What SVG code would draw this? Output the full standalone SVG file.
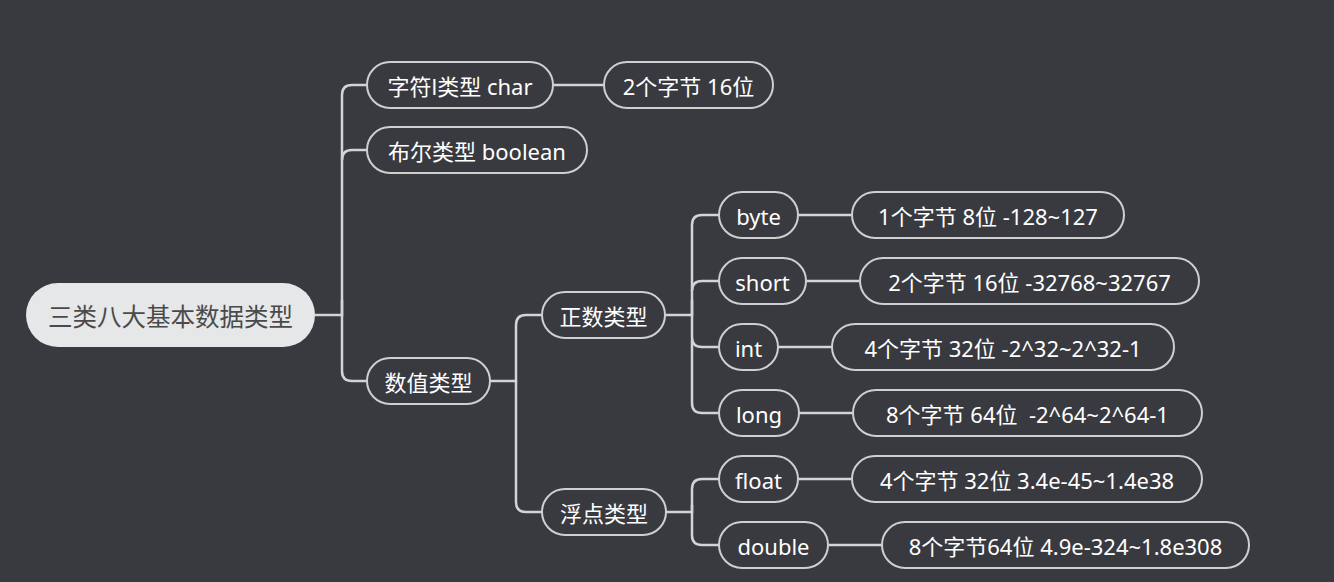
<svg xmlns="http://www.w3.org/2000/svg" width="1334" height="582" viewBox="0 0 1334 582">
<style>
.bg{fill:#393a3f}
.n rect{fill:#393a3f;stroke:#cfcfd0;stroke-width:2}
.n text{fill:#ffffff;font-family:"Noto Sans","Noto Sans CJK SC",sans-serif;font-size:22px;text-anchor:middle;dominant-baseline:central}
#root rect{fill:#e6e7e8;stroke:none}
#root text{fill:#4a4a4a;font-size:24.5px}
.c path{fill:none;stroke:#d4d4d5;stroke-width:2.5}
</style>
<rect class="bg" x="0" y="0" width="1334" height="582"/>
<g class="c" id="connectors">
<path d="M315,315 H342 V95 Q342,85 352,85 H367"/>
<path d="M342,160 Q342,150 352,150 H367"/>
<path d="M342,300 V371 Q342,381 352,381 H367"/>
<path d="M490,381 H516 V325 Q516,315 526,315 H542"/>
<path d="M516,381 V502 Q516,512 526,512 H542"/>
<path d="M665,315 H692 V225 Q692,215 702,215 H719"/>
<path d="M692,291 Q692,281 702,281 H719"/>
<path d="M692,300 V337 Q692,347 702,347 H719"/>
<path d="M692,340 V403 Q692,413 702,413 H719"/>
<path d="M666,512 H692 V489 Q692,479 702,479 H719"/>
<path d="M692,505 V535 Q692,545 702,545 H719"/>
<path d="M553,85 H604"/>
<path d="M798,215 H852"/>
<path d="M806,281 H860"/>
<path d="M778,347 H832"/>
<path d="M799,413 H853"/>
<path d="M798,479 H852"/>
<path d="M828,545 H882"/>
</g>
<g class="n" id="root"><rect x="26" y="283" width="289" height="64" rx="32"/><text x="170.5" y="316">三类八大基本数据类型</text></g>
<g class="n" id="char"><rect x="367" y="62" width="186" height="46" rx="23"/><text x="460" y="86">字符l类型 char</text></g>
<g class="n" id="charVal"><rect x="604" y="62" width="169" height="46" rx="23"/><text x="688.5" y="86">2个字节 16位</text></g>
<g class="n" id="boolean"><rect x="367" y="127" width="220" height="46" rx="23"/><text x="477" y="151">布尔类型 boolean</text></g>
<g class="n" id="numeric"><rect x="367" y="358" width="123" height="46" rx="23"/><text x="428.5" y="382">数值类型</text></g>
<g class="n" id="integer"><rect x="542" y="292" width="123" height="46" rx="23"/><text x="603.5" y="316">正数类型</text></g>
<g class="n" id="floating"><rect x="542" y="489" width="124" height="46" rx="23"/><text x="604" y="513">浮点类型</text></g>
<g class="n" id="byte"><rect x="719" y="192" width="79" height="46" rx="23"/><text x="758.5" y="216">byte</text></g>
<g class="n" id="byteVal"><rect x="852" y="192" width="272" height="46" rx="23"/><text x="988" y="216">1个字节 8位 -128~127</text></g>
<g class="n" id="short"><rect x="719" y="258" width="87" height="46" rx="23"/><text x="762.5" y="282">short</text></g>
<g class="n" id="shortVal"><rect x="860" y="258" width="339" height="46" rx="23"/><text x="1029.5" y="282">2个字节 16位 -32768~32767</text></g>
<g class="n" id="int"><rect x="719" y="324" width="59" height="46" rx="23"/><text x="748.5" y="348">int</text></g>
<g class="n" id="intVal"><rect x="832" y="324" width="342" height="46" rx="23"/><text x="1003" y="348">4个字节 32位 -2^32~2^32-1</text></g>
<g class="n" id="long"><rect x="719" y="390" width="80" height="46" rx="23"/><text x="759" y="414">long</text></g>
<g class="n" id="longVal"><rect x="853" y="390" width="349" height="46" rx="23"/><text x="1027.5" y="414" xml:space="preserve">8个字节 64位  -2^64~2^64-1</text></g>
<g class="n" id="float"><rect x="719" y="456" width="79" height="46" rx="23"/><text x="758.5" y="480">float</text></g>
<g class="n" id="floatVal"><rect x="852" y="456" width="350" height="46" rx="23"/><text x="1027" y="480">4个字节 32位 3.4e-45~1.4e38</text></g>
<g class="n" id="double"><rect x="719" y="522" width="109" height="46" rx="23"/><text x="773.5" y="546">double</text></g>
<g class="n" id="doubleVal"><rect x="882" y="522" width="367" height="46" rx="23"/><text x="1065.5" y="546">8个字节64位 4.9e-324~1.8e308</text></g>
</svg>
